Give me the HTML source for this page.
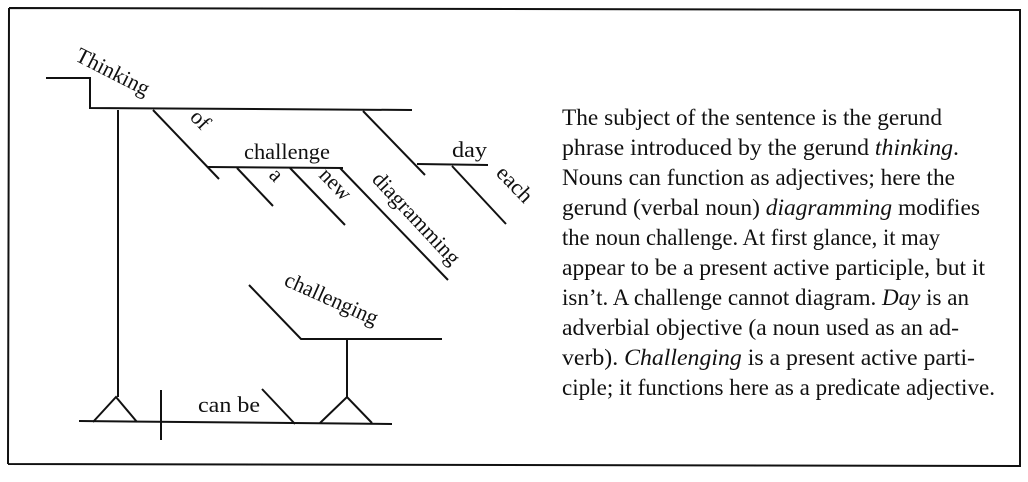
<!DOCTYPE html>
<html><head><meta charset="utf-8"><style>
html,body{margin:0;padding:0;background:#fff;}
svg{display:block;}
text{font-family:"Liberation Serif","Times New Roman",serif;fill:#111;}
</style></head><body>
<svg width="1028" height="482" viewBox="0 0 1028 482" xmlns="http://www.w3.org/2000/svg">
<g stroke="#111" stroke-width="2" fill="none">
<path d="M9 8 L1021 10 M9 8 L8 464 M8 464 L1021 466 M1020 10 L1020 466" stroke-width="2"/>
<path d="M46 78 L90 78 L90 108 L412 110"/>
<path d="M118 110 L118 397"/>
<path d="M93 422 L116 397 L137 422"/>
<path d="M79 421 L392 424"/>
<path d="M161 390 L161 440"/>
<path d="M262 389 L295 424"/>
<path d="M320 423 L347 397 L372 423"/>
<path d="M347 339 L347 397"/>
<path d="M249 285 L301 339 L442 339"/>
<path d="M153 110 L219 179"/>
<path d="M208 167 L343 168"/>
<path d="M237 168 L273 206"/>
<path d="M290 168 L345 225"/>
<path d="M340 168 L448 280"/>
<path d="M363 111 L425 175"/>
<path d="M417 164 L488 165"/>
<path d="M452 166 L506 224"/>
</g>
<g font-size="22">
<text transform="translate(74,60) rotate(27)" textLength="80" lengthAdjust="spacingAndGlyphs">Thinking</text>
<text transform="translate(189,118) rotate(46)">of</text>
<text x="244" y="159" textLength="86" lengthAdjust="spacingAndGlyphs">challenge</text>
<text transform="translate(268,176) rotate(46)">a</text>
<text transform="translate(318,176) rotate(46)" textLength="36" lengthAdjust="spacingAndGlyphs">new</text>
<text transform="translate(371,180) rotate(47)" textLength="118" lengthAdjust="spacingAndGlyphs">diagramming</text>
<text x="452" y="157" textLength="35" lengthAdjust="spacingAndGlyphs">day</text>
<text transform="translate(495,174) rotate(46)" textLength="42" lengthAdjust="spacingAndGlyphs">each</text>
<text transform="translate(283,285) rotate(24)" textLength="100" lengthAdjust="spacingAndGlyphs">challenging</text>
<text x="198" y="412" textLength="62" lengthAdjust="spacingAndGlyphs">can be</text>
</g>
<g font-size="23.5">
<text x="562" y="125" textLength="380" lengthAdjust="spacingAndGlyphs">The subject of the sentence is the gerund</text>
<text x="562" y="155" textLength="397" lengthAdjust="spacingAndGlyphs">phrase introduced by the gerund <tspan font-style="italic">thinking</tspan>.</text>
<text x="562" y="185" textLength="393" lengthAdjust="spacingAndGlyphs">Nouns can function as adjectives; here the</text>
<text x="562" y="215" textLength="418" lengthAdjust="spacingAndGlyphs">gerund (verbal noun) <tspan font-style="italic">diagramming</tspan> modifies</text>
<text x="562" y="245" textLength="378" lengthAdjust="spacingAndGlyphs">the noun challenge. At first glance, it may</text>
<text x="562" y="275" textLength="423" lengthAdjust="spacingAndGlyphs">appear to be a present active participle, but it</text>
<text x="562" y="305" textLength="407" lengthAdjust="spacingAndGlyphs">isn’t. A challenge cannot diagram. <tspan font-style="italic">Day</tspan> is an</text>
<text x="562" y="335" textLength="397" lengthAdjust="spacingAndGlyphs">adverbial objective (a noun used as an ad-</text>
<text x="562" y="365" textLength="413" lengthAdjust="spacingAndGlyphs">verb). <tspan font-style="italic">Challenging</tspan> is a present active parti-</text>
<text x="562" y="395" textLength="433" lengthAdjust="spacingAndGlyphs">ciple; it functions here as a predicate adjective.</text>
</g>
</svg>
</body></html>
